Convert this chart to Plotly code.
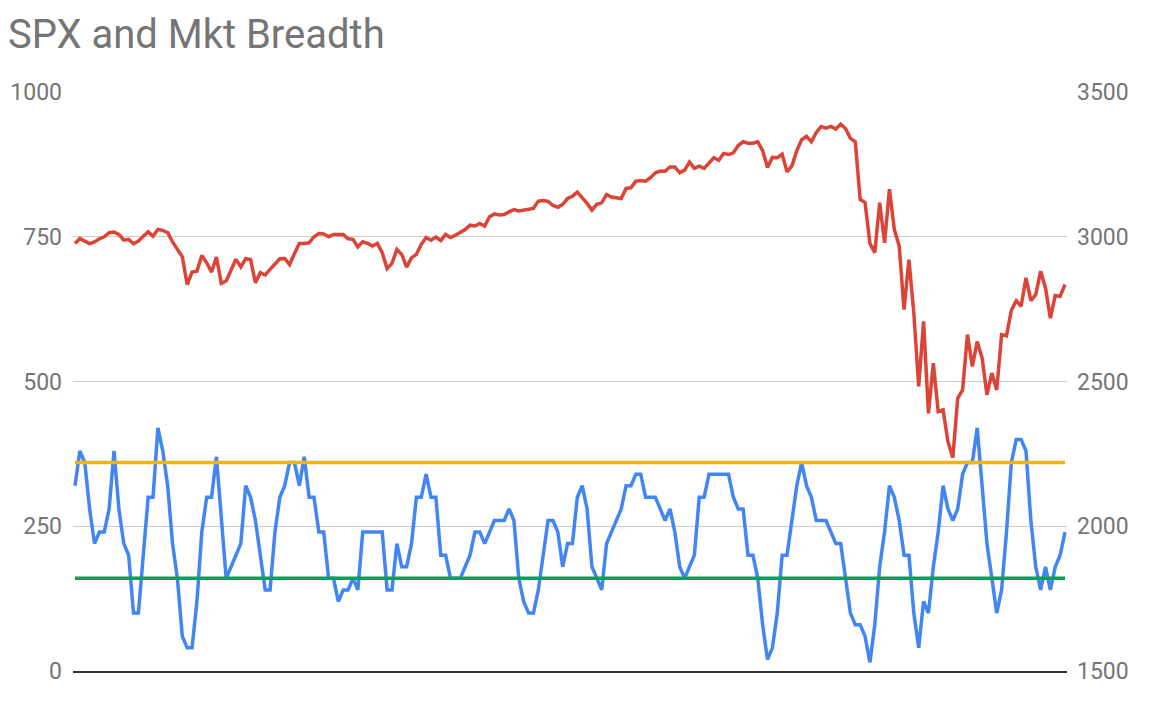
import plotly.graph_objects as go

TITLE = "SPX and Mkt Breadth"

# Market breadth (left axis)
breadth = [
    320, 380, 360, 280, 220, 240, 240, 280, 380, 280,
    220, 200, 100, 100, 200, 300, 300, 420, 380, 320,
    220, 160, 60, 40, 40, 120, 240, 300, 300, 370,
    265, 160, 180, 200, 220, 320, 300, 260, 200, 140,
    140, 240, 300, 320, 360, 360, 320, 370, 300, 300,
    240, 240, 160, 160, 120, 140, 140, 160, 140, 240,
    240, 240, 240, 240, 140, 140, 220, 180, 180,
    220, 300, 300, 340, 300, 300, 200, 200, 160, 160,
    160, 180, 200, 240, 240, 220, 240, 260, 260, 260,
    280, 260, 160, 120, 100, 100, 140, 200, 260, 260,
    240, 180, 220, 220, 300, 320, 280, 180, 160, 140,
    220, 240, 260, 280, 320, 320, 340, 340, 300, 300,
    300, 280, 260, 280, 240, 180, 160, 180, 200, 300,
    300, 340, 340, 340, 340, 340, 300, 280, 280,
    200, 200, 160, 80, 20, 40, 100, 200, 200, 260,
    320, 360, 320, 300, 260, 260, 260, 240, 220, 220,
    160, 100, 80, 80, 60, 15, 80, 180, 240, 320,
    300, 260, 200, 200, 100, 40, 120, 100, 180, 240,
    320, 280, 260, 280, 340, 360, 360, 420, 320, 220,
    160, 100, 140, 240, 360, 400, 400, 380, 260, 180,
    140, 180, 140, 180, 200, 240,
]

# SPX (right axis)
spx = [
    2977, 2994, 2985, 2976, 2982, 2993, 3000, 3014, 3016, 3008,
    2988, 2991, 2976, 2985, 3002, 3017, 3002, 3025, 3022, 3014,
    2982, 2959, 2931, 2835, 2878, 2881, 2935, 2910, 2878, 2930,
    2839, 2847, 2885, 2922, 2896, 2924, 2921, 2841, 2876, 2868,
    2887, 2905, 2924, 2925, 2904, 2942, 2977, 2977, 2979, 3000,
    3011, 3010, 3000, 3008, 3008, 3008, 2993, 2991, 2965, 2983,
    2977, 2968, 2977, 2945, 2890, 2908, 2956, 2939, 2895,
    2927, 2939, 2974, 2997, 2988, 2999, 2987, 3008, 2997, 3005,
    3014, 3025, 3040, 3037, 3046, 3037, 3069, 3079, 3075, 3077,
    3086, 3094, 3089, 3092, 3094, 3098, 3123, 3125, 3122, 3108,
    3102, 3112, 3132, 3140, 3154, 3135, 3115, 3092, 3112, 3117,
    3146, 3137, 3134, 3132, 3167, 3169, 3192, 3194, 3192, 3204,
    3221, 3227, 3226, 3241, 3241, 3221, 3230, 3258, 3236, 3244,
    3236, 3253, 3273, 3264, 3288, 3284, 3290, 3315, 3328,
    3323, 3323, 3328, 3297, 3239, 3274, 3273, 3285, 3224, 3245,
    3297, 3335, 3347, 3328, 3360, 3381, 3375, 3381, 3372, 3389,
    3374, 3340, 3328, 3129, 3118, 2977, 2945, 3118, 2979, 3164,
    3025, 2968, 2748, 2921, 2737, 2483, 2708, 2390, 2563, 2396,
    2402, 2292, 2237, 2442, 2471, 2662, 2552, 2638, 2581, 2454,
    2529, 2471, 2662, 2658, 2746, 2779, 2760, 2858, 2779, 2800,
    2881, 2823, 2719, 2797, 2794, 2835,
]

UPPER_LEVEL = 360
LOWER_LEVEL = 160

left_ticks = [0, 250, 500, 750, 1000]
right_ticks = [1500, 2000, 2500, 3000, 3500]

n = min(len(breadth), len(spx))
breadth = breadth[:n]
spx = spx[:n]
idx = list(range(n))

FONT = "Roboto"
GREY = "#757575"

fig = go.Figure()
fig.add_trace(go.Scatter(x=idx, y=breadth, mode="lines", name="Breadth",
                         line=dict(color="#4285f4", width=3.5), yaxis="y"))
fig.add_trace(go.Scatter(x=idx, y=spx, mode="lines", name="SPX",
                         line=dict(color="#db4437", width=3.5), yaxis="y2"))
fig.add_trace(go.Scatter(x=[idx[0], idx[-1]], y=[UPPER_LEVEL, UPPER_LEVEL], mode="lines",
                         name="Upper", line=dict(color="#f4b400", width=3.5), yaxis="y"))
fig.add_trace(go.Scatter(x=[idx[0], idx[-1]], y=[LOWER_LEVEL, LOWER_LEVEL], mode="lines",
                         name="Lower", line=dict(color="#0f9d58", width=3.5), yaxis="y"))

W, H = 1153, 702
pad = 0.41
fig.update_layout(
    width=W, height=H,
    margin=dict(l=65, r=94, t=84, b=39, autoexpand=False),
    paper_bgcolor="white", plot_bgcolor="white",
    showlegend=False,
    font=dict(family=FONT, color=GREY),
    title=dict(text=TITLE, x=0, xanchor="left", xref="container",
               y=1 - 26 / H, yanchor="middle", yref="container",
               font=dict(family=FONT, size=40, color=GREY)),
    xaxis=dict(range=[-pad, n - 1 + pad], showgrid=False, showticklabels=False,
               zeroline=False, showline=True, linecolor="#333333", linewidth=2,
               ticks="", automargin=False),
    yaxis=dict(range=[0, 1000], tickvals=left_ticks, ticktext=[str(t) for t in left_ticks],
               showgrid=True, gridcolor="#cccccc", gridwidth=1, zeroline=False,
               showline=False, ticks="", ticklabelstandoff=10, automargin=False,
               tickfont=dict(family=FONT, size=23, color=GREY)),
    yaxis2=dict(range=[1500, 3500], tickvals=right_ticks, ticktext=[str(t) for t in right_ticks],
                overlaying="y", side="right", showgrid=False, zeroline=False,
                showline=False, ticks="", ticklabelstandoff=9, automargin=False,
                tickfont=dict(family=FONT, size=23, color=GREY)),
)

fig.write_html("out.html")
